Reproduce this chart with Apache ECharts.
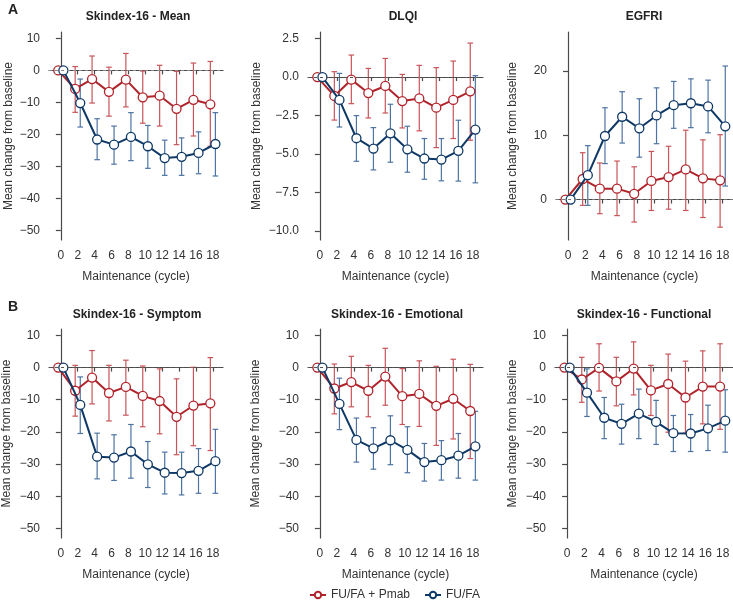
<!DOCTYPE html>
<html><head><meta charset="utf-8">
<script src="https://cdn.jsdelivr.net/npm/echarts@6/dist/echarts.min.js"></script>
<style>html,body{margin:0;padding:0;background:#fff}#c{width:733px;height:603px}</style>
</head><body><div id="c"></div>
<script>
// ---------- data ----------
const cycles = [0, 2, 4, 6, 8, 10, 12, 14, 16, 18];
const xTicks = [0, 2, 4, 6, 8, 10, 12, 14, 16, 18];
const skTicks = [-50, -40, -30, -20, -10, 0, 10];
const dlqiTicks = [-10, -7.5, -5, -2.5, 0, 2.5];
const egfriTicks = [0, 10, 20];
const panelTitles = ['Skindex-16 - Mean', 'DLQI', 'EGFRI', 'Skindex-16 - Symptom', 'Skindex-16 - Emotional', 'Skindex-16 - Functional'];
const seriesNames = ['FU/FA + Pmab', 'FU/FA'];

// Skindex-16 Mean
const skMeanPmab   = [0, -5.8, -2.7, -6.7, -2.9, -8.4, -7.9, -12.0, -9.2, -10.6];
const skMeanPmabLo = [null, -13.1, -10.2, -14.3, -11.4, -16.5, -17.4, -23.2, -20.5, -23.7];
const skMeanPmabHi = [null, 1.2, 4.5, 1.0, 5.3, -0.2, 1.6, -0.3, 2.3, 2.8];
const skMeanFa     = [0, -10.2, -21.6, -23.2, -20.8, -23.7, -27.4, -27.0, -25.8, -23.0];
const skMeanFaLo   = [null, -17.7, -27.9, -29.3, -28.2, -30.6, -32.8, -32.8, -32.3, -33.0];
const skMeanFaHi   = [null, -2.7, -15.1, -17.4, -13.2, -17.2, -21.8, -21.1, -19.2, -13.2];
// DLQI
const dlqiPmab   = [0, -1.23, -0.17, -1.04, -0.58, -1.56, -1.39, -1.99, -1.49, -0.93];
const dlqiPmabLo = [null, -2.8, -1.73, -2.66, -2.34, -3.31, -3.5, -4.59, -4.0, -4.11];
const dlqiPmabHi = [null, 0.35, 1.43, 0.56, 1.21, 0.17, 0.76, 0.61, 1.04, 2.21];
const dlqiFa     = [0, -1.49, -3.98, -4.65, -3.66, -4.7, -5.3, -5.37, -4.8, -3.42];
const dlqiFaLo   = [null, -3.25, -5.48, -6.04, -5.54, -6.19, -6.65, -6.75, -6.77, -6.88];
const dlqiFaHi   = [null, 0.24, -2.51, -3.29, -1.77, -3.2, -4.0, -4.0, -2.81, 0.09];
// EGFRI
const egPmab   = [0, 3.2, 1.7, 1.7, 0.9, 2.9, 3.5, 4.7, 3.3, 3.0];
const egPmabLo = [null, -0.9, -2.2, -2.5, -3.5, -1.7, -1.5, -1.7, -2.8, -4.3];
const egPmabHi = [null, 7.3, 5.7, 6.0, 5.1, 7.5, 8.3, 10.8, 9.3, 10.1];
const egFa     = [0, 3.8, 9.9, 12.9, 11.1, 13.1, 14.7, 15.0, 14.5, 11.4];
const egFaLo   = [null, -0.9, 5.6, 8.8, 6.6, 8.7, 11.1, 11.2, 10.4, 2.1];
const egFaHi   = [null, 8.4, 14.3, 16.8, 15.7, 17.4, 18.4, 18.8, 18.6, 20.8];
// Skindex-16 Symptom
const skSymPmab   = [0, -7.2, -3.1, -7.9, -6.0, -8.8, -10.4, -15.3, -11.8, -11.1];
const skSymPmabLo = [null, -15.1, -11.3, -16.6, -14.8, -18.4, -20.6, -27.1, -24.3, -25.8];
const skSymPmabHi = [null, 0.7, 5.3, 0.7, 2.3, 0.5, -0.4, -3.5, 0.1, 3.1];
const skSymFa     = [0, -11.6, -27.7, -28.0, -26.1, -30.1, -32.7, -32.8, -32.1, -29.1];
const skSymFaLo   = [null, -20.5, -34.6, -35.1, -34.4, -37.3, -39.3, -39.6, -39.1, -39.1];
const skSymFaHi   = [null, -2.9, -20.4, -20.9, -17.7, -23.0, -26.3, -26.3, -25.2, -19.2];
// Skindex-16 Emotional
const skEmoPmab   = [0, -6.5, -4.5, -7.2, -2.8, -8.9, -8.2, -11.9, -9.7, -13.5];
const skEmoPmabLo = [null, -14.4, -12.2, -15.3, -11.7, -17.7, -18.3, -24.2, -22.2, -28.3];
const skEmoPmabHi = [null, 1.1, 3.5, 0.7, 6.0, -0.3, 2.1, 0.4, 2.6, 1.0];
const skEmoFa     = [0, -11.3, -22.5, -25.1, -22.6, -25.6, -29.4, -28.8, -27.4, -24.5];
const skEmoFaLo   = [null, -19.3, -29.4, -31.6, -30.2, -32.7, -35.3, -35.0, -34.4, -35.0];
const skEmoFaHi   = [null, -3.3, -15.7, -18.7, -15.0, -18.4, -23.6, -22.7, -20.5, -13.6];
// Skindex-16 Functional
const skFunPmab   = [0, -3.7, -0.1, -4.3, -0.3, -7.1, -5.1, -9.3, -5.9, -5.9];
const skFunPmabLo = [null, -10.8, -7.3, -11.9, -8.5, -14.9, -20.1, -20.4, -17.5, -19.2];
const skFunPmabHi = [null, 3.2, 7.4, 3.2, 8.0, 0.7, 4.2, 2.0, 5.2, 7.4];
const skFunFa     = [0, -7.8, -15.6, -17.5, -14.3, -16.9, -20.4, -20.5, -18.9, -16.5];
const skFunFaLo   = [null, -15.2, -22.1, -23.8, -22.1, -23.9, -26.1, -26.1, -25.8, -26.3];
const skFunFaHi   = [null, -0.4, -9.3, -11.4, -6.7, -10.2, -14.9, -14.6, -11.7, -6.9];

// ---------- layout / style ----------
const RED = '#b0232a', RED_BAR = '#c9555a';
const BLUE = '#0e3866', BLUE_BAR = '#4d74a2';
const DODGE = 0.3;
const FONT = '"Liberation Sans", Arial, Helvetica, sans-serif';

const panels = [
  {pm: [skMeanPmab, skMeanPmabLo, skMeanPmabHi], fa: [skMeanFa, skMeanFaLo, skMeanFaHi], ticks: skTicks, min: -53, max: 12, dec: 0,
   grid: {left: 49, top: 32, width: 174, height: 208}, nameGap: 34, titleX: 138, titleY: 17, zero: '#888'},
  {pm: [dlqiPmab, dlqiPmabLo, dlqiPmabHi], fa: [dlqiFa, dlqiFaLo, dlqiFaHi], ticks: dlqiTicks, min: -10.6, max: 2.93, dec: 1,
   grid: {left: 308, top: 32, width: 175, height: 208}, nameGap: 45, titleX: 403, titleY: 17, zero: '#555'},
  {pm: [egPmab, egPmabLo, egPmabHi], fa: [egFa, egFaLo, egFaHi], ticks: egfriTicks, min: -6.3, max: 26.1, dec: 0,
   grid: {left: 556, top: 32, width: 177, height: 208}, nameGap: 37, titleX: 644, titleY: 17, zero: '#777'},
  {pm: [skSymPmab, skSymPmabLo, skSymPmabHi], fa: [skSymFa, skSymFaLo, skSymFaHi], ticks: skTicks, min: -53, max: 12, dec: 0,
   grid: {left: 49, top: 329, width: 174, height: 209}, nameGap: 36, titleX: 137, titleY: 315, zero: '#555'},
  {pm: [skEmoPmab, skEmoPmabLo, skEmoPmabHi], fa: [skEmoFa, skEmoFaLo, skEmoFaHi], ticks: skTicks, min: -53, max: 12, dec: 0,
   grid: {left: 308, top: 329, width: 175, height: 209}, nameGap: 46, titleX: 397, titleY: 315, zero: '#555'},
  {pm: [skFunPmab, skFunPmabLo, skFunPmabHi], fa: [skFunFa, skFunFaLo, skFunFaHi], ticks: skTicks, min: -53, max: 12, dec: 0,
   grid: {left: 555, top: 329, width: 178, height: 209}, nameGap: 36, titleX: 644, titleY: 315, zero: '#555'}
];

function fmt(dec) {
  return v => (v < 0 ? '\u2212' : '') + Math.abs(v).toFixed(dec);
}
function errRenderer(color) {
  return function (params, api) {
    const x = api.value(0), lo = api.value(1), hi = api.value(2);
    const a = api.coord([x, lo]), b = api.coord([x, hi]);
    const cw = 2.8;
    const st = {stroke: color, lineWidth: 1.2, fill: null};
    return {type: 'group', children: [
      {type: 'line', shape: {x1: a[0], y1: a[1], x2: b[0], y2: b[1]}, style: st},
      {type: 'line', shape: {x1: a[0] - cw, y1: a[1], x2: a[0] + cw, y2: a[1]}, style: st},
      {type: 'line', shape: {x1: b[0] - cw, y1: b[1], x2: b[0] + cw, y2: b[1]}, style: st}
    ]};
  };
}
function errData(lo, hi, off) {
  const out = [];
  cycles.forEach((c, i) => { if (lo[i] != null && hi[i] != null) out.push([c + off, lo[i], hi[i]]); });
  return out;
}
function lineData(vals, off) { return cycles.map((c, i) => [c + off, vals[i]]); }

const grids = [], xAxes = [], yAxes = [], series = [], graphics = [];
const axisLineStyle = {color: '#4a4a4a', width: 1.2};
panels.forEach((p, k) => {
  grids.push(Object.assign({containLabel: false}, p.grid));
  xAxes.push({
    type: 'value', gridIndex: k, min: -1.4, max: 19.2,
    name: 'Maintenance (cycle)', nameLocation: 'middle', nameGap: 31,
    nameTextStyle: {fontFamily: FONT, fontSize: 12, color: '#333'},
    axisLine: {show: true, lineStyle: axisLineStyle},
    axisTick: {show: true, length: 4, lineStyle: axisLineStyle, customValues: xTicks},
    axisLabel: {fontFamily: FONT, fontSize: 12, color: '#333', margin: 10, customValues: xTicks},
    splitLine: {show: false}
  });
  yAxes.push({
    type: 'value', gridIndex: k, min: p.min, max: p.max,
    name: 'Mean change from baseline', nameLocation: 'middle', nameGap: p.nameGap,
    nameTextStyle: {fontFamily: FONT, fontSize: 12, color: '#333'},
    axisLine: {show: true, lineStyle: axisLineStyle},
    axisTick: {show: true, length: 5, lineStyle: axisLineStyle, customValues: p.ticks},
    axisLabel: {fontFamily: FONT, fontSize: 12, color: '#333', margin: 9, customValues: p.ticks, formatter: fmt(p.dec)},
    splitLine: {show: false}
  });
  series.push({
    type: 'custom', name: 'errPm' + k, xAxisIndex: k, yAxisIndex: k, silent: true,
    renderItem: errRenderer(RED_BAR), data: errData(p.pm[1], p.pm[2], -DODGE), encode: {x: 0, y: [1, 2]}, z: 2
  });
  series.push({
    type: 'custom', name: 'errFa' + k, xAxisIndex: k, yAxisIndex: k, silent: true,
    renderItem: errRenderer(BLUE_BAR), data: errData(p.fa[1], p.fa[2], DODGE), encode: {x: 0, y: [1, 2]}, z: 2
  });
  series.push({
    type: 'line', name: seriesNames[0], xAxisIndex: k, yAxisIndex: k, data: lineData(p.pm[0], -DODGE),
    symbol: 'circle', symbolSize: 9, showAllSymbol: true, z: 3,
    lineStyle: {color: RED, width: 2}, itemStyle: {color: '#fff', borderColor: RED, borderWidth: 1.3},
    markLine: {silent: true, symbol: 'none', label: {show: false}, animation: false,
      lineStyle: {type: [3, 3], color: p.zero, width: 1}, data: [{yAxis: 0}]}
  });
  series.push({
    type: 'line', name: seriesNames[1], xAxisIndex: k, yAxisIndex: k, data: lineData(p.fa[0], DODGE),
    symbol: 'circle', symbolSize: 9, showAllSymbol: true, z: 4,
    lineStyle: {color: BLUE, width: 2}, itemStyle: {color: '#fff', borderColor: BLUE, borderWidth: 1.3}
  });
  graphics.push({type: 'text', x: p.titleX, y: p.titleY, style: {text: panelTitles[k], font: 'bold 12px ' + FONT, fill: '#222', align: 'center', verticalAlign: 'middle'}});
});
graphics.push({type: 'text', x: 8, y: 10, style: {text: 'A', font: 'bold 14px ' + FONT, fill: '#222', verticalAlign: 'middle'}});
graphics.push({type: 'text', x: 8, y: 307, style: {text: 'B', font: 'bold 14px ' + FONT, fill: '#222', verticalAlign: 'middle'}});

const chart = echarts.init(document.getElementById('c'), null, {renderer: 'canvas'});
chart.setOption({
  animation: false,
  backgroundColor: '#fff',
  grid: grids, xAxis: xAxes, yAxis: yAxes, series: series, graphic: graphics,
  legend: {data: seriesNames, top: 584, left: 304, itemWidth: 16, itemHeight: 8, itemGap: 14,
    textStyle: {fontFamily: FONT, fontSize: 12, color: '#333'}}
});
</script></body></html>
